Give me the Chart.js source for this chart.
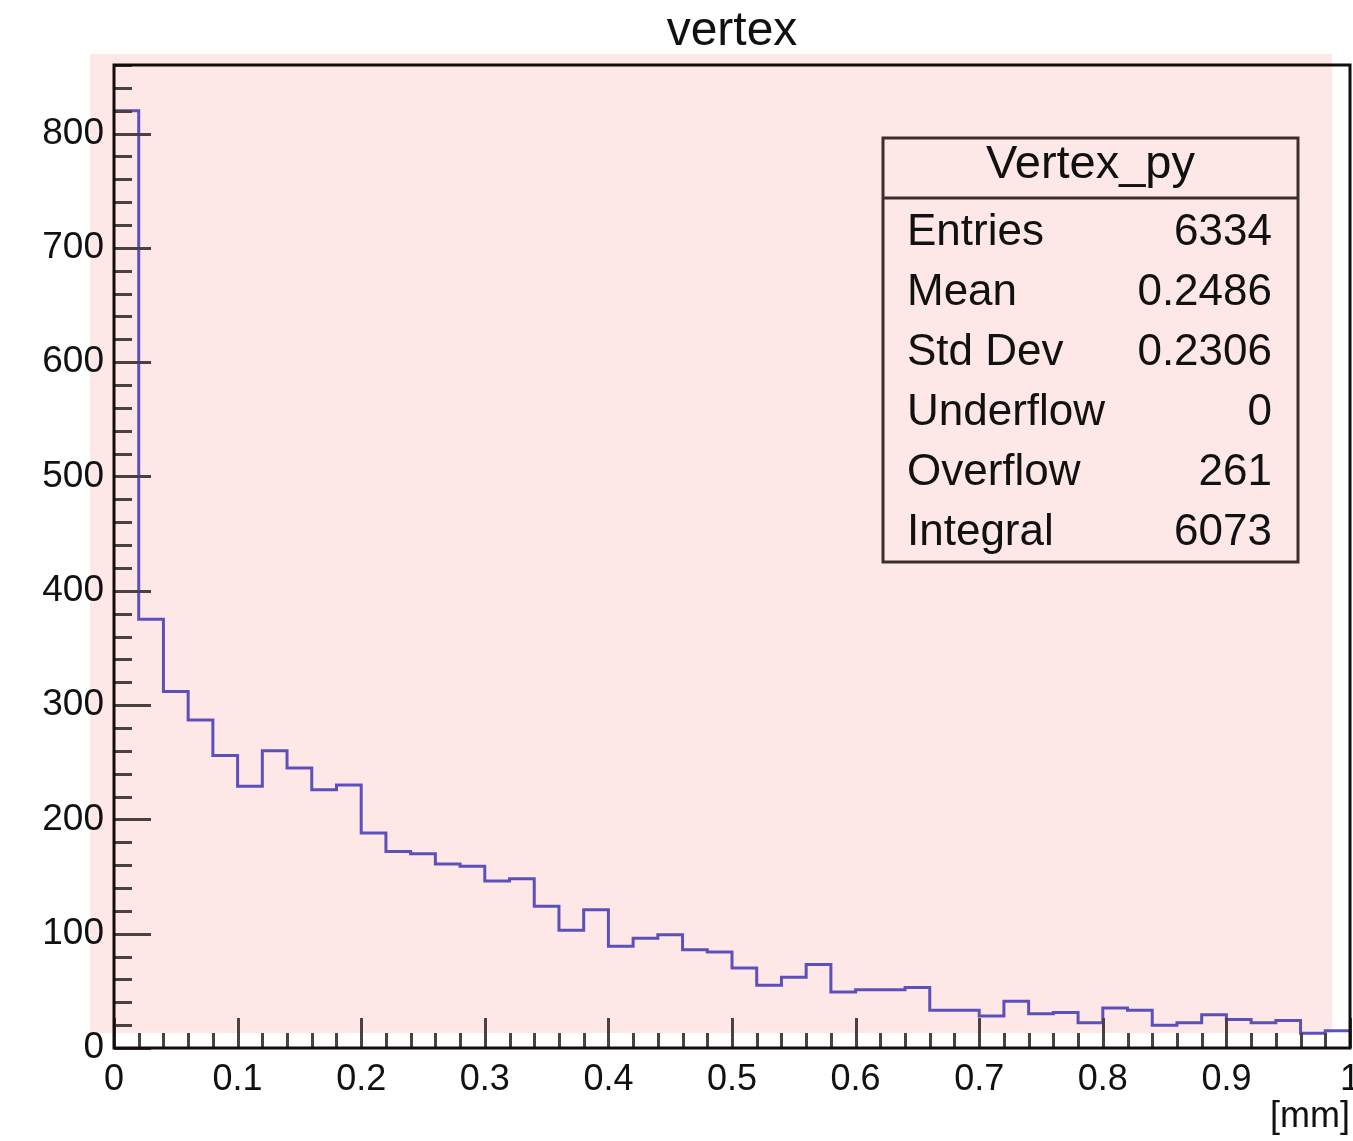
<!DOCTYPE html>
<html>
<head>
<meta charset="utf-8">
<title>vertex</title>
<script src="https://cdn.jsdelivr.net/npm/chart.js@4.4.1/dist/chart.umd.min.js"></script>
<style>
  html, body { margin: 0; padding: 0; background: #fff; }
  #wrap { width: 1353px; height: 1141px; }
</style>
</head>
<body>
<div id="wrap"><canvas id="hist"></canvas></div>
<script>
// Vertex_py: 50 bins of 0.02 mm between 0 and 1 mm
const binLow = [
  0.00, 0.02, 0.04, 0.06, 0.08, 0.10, 0.12, 0.14, 0.16, 0.18,
  0.20, 0.22, 0.24, 0.26, 0.28, 0.30, 0.32, 0.34, 0.36, 0.38,
  0.40, 0.42, 0.44, 0.46, 0.48, 0.50, 0.52, 0.54, 0.56, 0.58,
  0.60, 0.62, 0.64, 0.66, 0.68, 0.70, 0.72, 0.74, 0.76, 0.78,
  0.80, 0.82, 0.84, 0.86, 0.88, 0.90, 0.92, 0.94, 0.96, 0.98
];
const binHigh = 1.0;
const counts = [
  820, 375, 312, 287, 256, 229, 260, 245, 226, 230,
  188, 172, 170, 161, 159, 146, 148, 124, 103, 121,
   89,  96,  99,  86,  84,  70,  55,  62,  73,  49,
   51,  51,  53,  33,  33,  28,  41,  30,  31,  22,
   35,  33,  20,  22,  29,  25,  22,  24,  13,  15
];
const xTicks = [0, 0.1, 0.2, 0.3, 0.4, 0.5, 0.6, 0.7, 0.8, 0.9, 1];
const xTickLabels = ['0', '0.1', '0.2', '0.3', '0.4', '0.5', '0.6', '0.7', '0.8', '0.9', '1'];
const yTicks = [0, 100, 200, 300, 400, 500, 600, 700, 800];
const yTickLabels = ['0', '100', '200', '300', '400', '500', '600', '700', '800'];
const yMax = 860;

const statTitle = 'Vertex_py';
const statNames = ['Entries', 'Mean', 'Std Dev', 'Underflow', 'Overflow', 'Integral'];
const statValues = ['6334', '0.2486', '0.2306', '0', '261', '6073'];

const FONT = "'Liberation Sans', Arial, Helvetica, sans-serif";
const INK = '#111111';

// step outline: each bin is a flat segment from its low edge to the next edge
const outline = binLow.map((x, i) => ({ x: x, y: counts[i] }));
outline.push({ x: binHigh, y: counts[counts.length - 1] });

const rootPad = {
  id: 'rootPad',
  beforeDraw(chart) {
    const { ctx, chartArea: a } = chart;
    ctx.save();
    ctx.fillStyle = '#fee8e7';
    ctx.fillRect(a.left - 24, a.top - 11, a.right - a.left + 6, a.bottom - a.top - 4);
    ctx.restore();
  },
  afterDatasetsDraw(chart) {
    const { ctx, chartArea: a, scales } = chart;
    const xs = scales.x, ys = scales.y;
    ctx.save();
    ctx.strokeStyle = '#4a4242';
    ctx.lineWidth = 3;
    ctx.beginPath();
    // y axis ticks pointing into the frame, minor every 20
    for (let v = 0; v <= yMax; v += 20) {
      const py = Math.round(ys.getPixelForValue(v)) + 0.5;
      const len = v % 100 === 0 ? 37 : 18;
      ctx.moveTo(a.left, py);
      ctx.lineTo(a.left + len, py);
    }
    // x axis ticks, minor every 0.02
    for (let k = 0; k <= 50; k++) {
      const px = Math.round(xs.getPixelForValue(k / 50)) + 0.5;
      const len = k % 5 === 0 ? 30 : 15;
      ctx.moveTo(px, a.bottom);
      ctx.lineTo(px, a.bottom - len);
    }
    ctx.stroke();
    // frame
    ctx.strokeStyle = '#140c0c';
    ctx.lineWidth = 3;
    ctx.strokeRect(a.left, a.top, a.right - a.left, a.bottom - a.top);
    ctx.restore();
  },
  afterDraw(chart) {
    const { ctx, chartArea: a } = chart;
    ctx.save();
    ctx.fillStyle = INK;

    // histogram title
    ctx.font = '48px ' + FONT;
    ctx.textAlign = 'center';
    ctx.textBaseline = 'alphabetic';
    ctx.fillText('vertex', (a.left + a.right) / 2, 45);

    // statistics box
    const bx = a.right - 467, by = a.top + 73, bw = 415, bh = 424;
    ctx.strokeStyle = '#3a2e2e';
    ctx.lineWidth = 3;
    ctx.strokeRect(bx, by, bw, bh);
    ctx.beginPath();
    ctx.moveTo(bx, by + 60);
    ctx.lineTo(bx + bw, by + 60);
    ctx.stroke();

    ctx.font = '47px ' + FONT;
    ctx.textAlign = 'center';
    ctx.fillText(statTitle, bx + bw / 2, by + 40);

    ctx.font = '44px ' + FONT;
    statNames.forEach((name, i) => {
      const base = by + 107 + i * 60;
      ctx.textAlign = 'left';
      ctx.fillText(name, bx + 24, base);
      ctx.textAlign = 'right';
      ctx.fillText(statValues[i], bx + bw - 26, base);
    });
    ctx.restore();
  }
};

function fixAxis(size) {
  return function (scale) {
    if (scale.isHorizontal()) scale.height = size; else scale.width = size;
    scale.paddingLeft = 0;
    scale.paddingRight = 0;
    scale.paddingTop = 0;
    scale.paddingBottom = 0;
  };
}

new Chart(document.getElementById('hist'), {
  type: 'line',
  data: {
    datasets: [{
      label: statTitle,
      data: outline,
      stepped: 'before',
      borderColor: 'rgb(92, 80, 186)',
      borderWidth: 3,
      pointRadius: 0,
      fill: false,
      clip: 4
    }]
  },
  plugins: [rootPad],
  options: {
    responsive: true,
    maintainAspectRatio: false,
    animation: false,
    layout: { padding: { left: 0, right: 3, top: 65, bottom: 0 } },
    plugins: {
      legend: { display: false },
      title: { display: false },
      tooltip: { enabled: false }
    },
    scales: {
      x: {
        type: 'linear',
        min: 0,
        max: 1,
        afterBuildTicks: (scale) => { scale.ticks = xTicks.map(v => ({ value: v })); },
        afterFit: fixAxis(93),
        grid: { display: false, drawTicks: false },
        border: { display: false },
        ticks: {
          autoSkip: false,
          maxRotation: 0,
          padding: 10,
          color: INK,
          font: { family: FONT, size: 36 },
          callback: (v) => xTickLabels[xTicks.indexOf(v)]
        },
        title: {
          display: true,
          text: '[mm]',
          align: 'end',
          color: INK,
          font: { family: FONT, size: 36 },
          padding: { top: 0, bottom: 2 }
        }
      },
      y: {
        min: 0,
        max: yMax,
        afterBuildTicks: (scale) => { scale.ticks = yTicks.map(v => ({ value: v })); },
        afterFit: fixAxis(114),
        grid: { display: false, drawTicks: false },
        border: { display: false },
        ticks: {
          padding: 10,
          color: INK,
          font: { family: FONT, size: 37 },
          callback: (v) => yTickLabels[yTicks.indexOf(v)]
        }
      }
    }
  }
});
</script>
</body>
</html>
